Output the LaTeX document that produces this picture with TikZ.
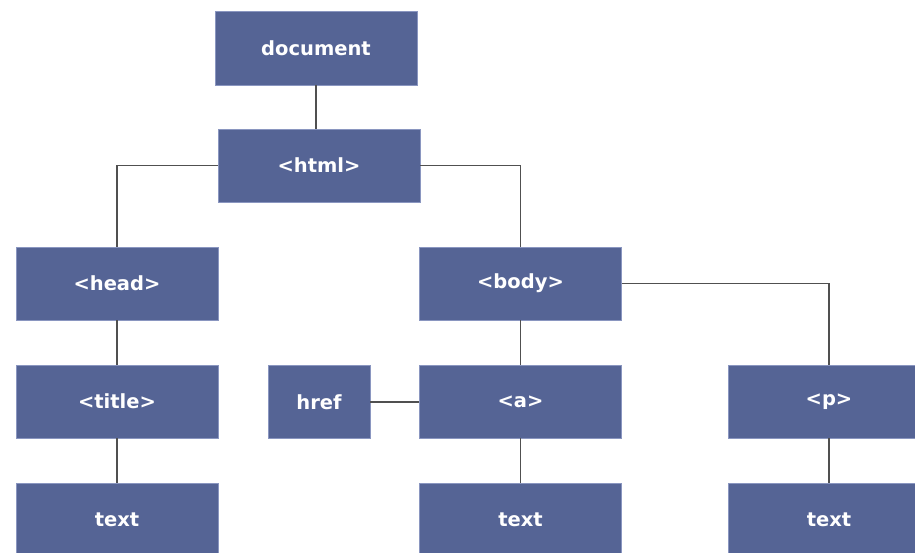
\documentclass[tikz,border=0pt]{standalone}
\usepackage{fontspec}
\setmainfont{DejaVu Sans}
\definecolor{boxfill}{HTML}{556495}
\definecolor{boxline}{HTML}{8A96C0}
\definecolor{wire}{HTML}{505050}
\begin{document}
\begin{tikzpicture}[x=1pt,y=-1pt,
  tag/.style={rectangle, fill=boxfill, draw=boxline, line width=0.6pt,
    minimum width=202pt, minimum height=73pt, inner sep=0pt,
    text=white, font=\fontsize{19.5}{22}\selectfont\bfseries},
  link/.style={draw=wire, line width=1.2pt}]
\useasboundingbox (0,0) rectangle (915,552);
\clip (0,0) rectangle (915,552);
\fill[white] (0,0) rectangle (915,552);
\node[tag, minimum height=74pt] (doc) at (316,48) {document};
\node[tag] (html) at (319,165.5) {<html>};
\node[tag] (head) at (117,283.5) {<head>};
\node[tag] (body) at (520.5,283.5) {<body>};
\node[tag] (title) at (117,401.5) {<title>};
\node[tag, minimum width=102pt] (href) at (319,402) {href};
\node[tag] (a) at (520.5,401.5) {<a>};
\node[tag] (p) at (829,401.5) {<p>};
\node[tag] (t1) at (117,519.5) {text};
\node[tag] (t2) at (520.5,519.5) {text};
\node[tag] (t3) at (829,519.5) {text};
\draw[link] (doc.south) -- (doc.south |- html.north);
\draw[link] (html.west) -| (head.north);
\draw[link] (html.east) -| (body.north);
\draw[link] (body.east) -| (p.north);
\draw[link] (head) -- (title);
\draw[link] (title) -- (t1);
\draw[link] (body) -- (a);
\draw[link] (href.east) -- (href.east -| a.west);
\draw[link] (a) -- (t2);
\draw[link] (p) -- (t3);
\end{tikzpicture}
\end{document}
